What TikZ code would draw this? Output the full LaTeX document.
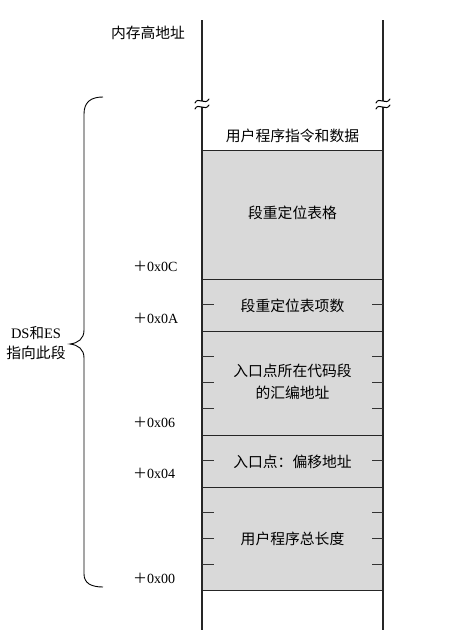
\documentclass[tikz,border=0pt]{standalone}
\usepackage{fontspec}
\setmainfont{Liberation Serif}
\newfontfamily\cjk{Noto Sans CJK SC}
\begin{document}
\begin{tikzpicture}[x=1pt,y=-1pt,
  wall/.style={draw=black!85,line width=1.1pt},
  sep/.style={draw=black!85,line width=1pt},
  tick/.style={draw=black!80,line width=1pt},
  cjktext/.style={font=\cjk\fontsize{14.8}{20}\selectfont,inner sep=0pt,align=center},
  offs/.style={font=\fontsize{14}{16}\selectfont,inner sep=0pt,anchor=west},
  brc/.style={draw=black,line width=0.9pt}]
\useasboundingbox (0,0) rectangle (476,630);
% gray region
\fill[black!15] (202,150) rectangle (383,590);
% walls with breaks
\coordinate (lt) at (202,20); \coordinate (lb1) at (202,101);
\coordinate (lb2) at (202,107); \coordinate (lbot) at (202,630);
\coordinate (rt) at (383,20); \coordinate (rb1) at (383,101);
\coordinate (rb2) at (383,107); \coordinate (rbot) at (383,630);
\draw[wall] (lt) -- (lb1);
\draw[wall] (lb2) -- (lbot);
\draw[wall] (rt) -- (rb1);
\draw[wall] (rb2) -- (rbot);
% break marks
\foreach \xx in {202,383}{
  \foreach \yy in {101,107}{
    \draw[line width=1pt,line cap=round] (\xx-7,\yy+2) .. controls (\xx-4,\yy-5) and (\xx+3,\yy+5) .. (\xx+7,\yy-2);
  }
}
% separators
\foreach \yy in {150,279,331,435,487,590}{
  \draw[sep] (202,\yy) -- (383,\yy);
}
% byte ticks
\foreach \n in {1,2,3,5,7,8,9,11}{
  \pgfmathsetmacro{\yy}{590-25.92*\n}
  \draw[tick] (202,\yy) -- (214,\yy);
  \draw[tick] (372,\yy) -- (383,\yy);
}
% texts
\node[cjktext] (hi) at (148,33) {内存高地址};
\node[cjktext] (usr) at (292.5,136) {用户程序指令和数据};
\node[cjktext] (tbl) at (292.5,213) {段重定位表格};
\node[cjktext] (cnt) at (292.5,306) {段重定位表项数};
\node[cjktext,font=\cjk\fontsize{14.8}{22}\selectfont] (seg) at (292.5,382) {入口点所在代码段\\的汇编地址};
\node[cjktext] (ent) at (292.5,462) {入口点：偏移地址};
\node[cjktext] (len) at (292.5,539) {用户程序总长度};
% offsets
\node[offs] (o0C) at (133,266) {{\cjk ＋}0x0C};
\node[offs] (o0A) at (133,318) {{\cjk ＋}0x0A};
\node[offs] (o06) at (133,422) {{\cjk ＋}0x06};
\node[offs] (o04) at (133,473) {{\cjk ＋}0x04};
\node[offs] (o00) at (133,578) {{\cjk ＋}0x00};
% brace
\coordinate (btop) at (103,97);
\coordinate (btip) at (70,344);
\coordinate (bbot) at (103,587);
\draw[brc] (btop) .. controls (91,97) and (84,102) .. (84,114) -- (84,330)
  .. controls (84,339) and (78,343) .. (btip)
  .. controls (78,345) and (84,349) .. (84,358) -- (84,574)
  .. controls (84,583) and (91,587) .. (bbot);
\node[cjktext] (ds) at (36,343) {\fontsize{14.5}{21}\selectfont\rmfamily DS{\cjk 和}ES\\{\cjk 指向此段}};
\end{tikzpicture}
\end{document}
